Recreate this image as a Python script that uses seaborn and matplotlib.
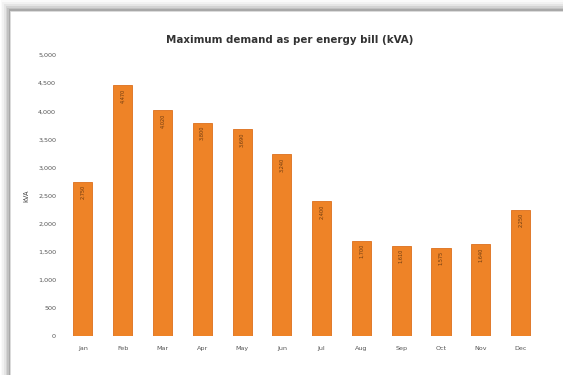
import matplotlib
matplotlib.use("Agg")
import matplotlib.pyplot as plt
import seaborn as sns
import pandas as pd
from matplotlib.patches import Rectangle

months = ["Jan", "Feb", "Mar", "Apr", "May", "Jun", "Jul", "Aug", "Sep", "Oct", "Nov", "Dec"]
demand_kva = [2750, 4470, 4020, 3800, 3690, 3240, 2400, 1700, 1610, 1575, 1640, 2250]
yticks = [0, 500, 1000, 1500, 2000, 2500, 3000, 3500, 4000, 4500, 5000]

df = pd.DataFrame({"Month": months, "kVA": demand_kva})

sns.set_theme(style="white")
plt.rcParams["font.family"] = ["DejaVu Sans"]

fig = plt.figure(figsize=(5.63, 3.75), dpi=100)
fig.patch.set_facecolor("white")

# chart frame shadow
for i, a in enumerate([0.12, 0.09, 0.07, 0.05, 0.03, 0.02]):
    fig.patches.append(Rectangle((0.016 - 0.003 * i, -0.05), 1.1, 1.025 + 0.005 * i,
                                 transform=fig.transFigure, facecolor="black", alpha=a,
                                 edgecolor="none", zorder=-20))
fig.patches.append(Rectangle((0.017, -0.05), 1.1, 1.022, transform=fig.transFigure,
                             facecolor="white", edgecolor="#dddddd", lw=0.6, zorder=-10))

ax = fig.add_axes([0.112, 0.104, 0.848, 0.749])
ax.set_facecolor("none")
sns.barplot(data=df, x="Month", y="kVA", color="#EE8327", width=0.48, saturation=1,
            edgecolor="#dc6f1c", linewidth=0.6, ax=ax)

ax.set_ylim(0, 5000)
ax.set_yticks(yticks)
ax.set_yticklabels([f"{v:,}" for v in yticks], fontsize=4.6, color="#555555")
ax.tick_params(axis="x", labelsize=4.6, colors="#555555", length=0, pad=7)
ax.tick_params(axis="y", length=0, pad=5)
for s in ax.spines.values():
    s.set_visible(False)
ax.set_xlabel("")
ax.set_ylabel("kVA", fontsize=4.8, color="#444444", labelpad=6)
ax.set_xlim(-0.5, 11.5)

for i, v in enumerate(demand_kva):
    ax.text(i, v - 60, f"{v:,}", rotation=90, ha="center", va="top", fontsize=3.6,
            color="#6b3a10")

fig.text(0.515, 0.893, "Maximum demand as per energy bill (kVA)", ha="center", va="center",
         fontsize=7.4, fontweight="bold", color="#333333")

fig.savefig("out.png", dpi=100)
